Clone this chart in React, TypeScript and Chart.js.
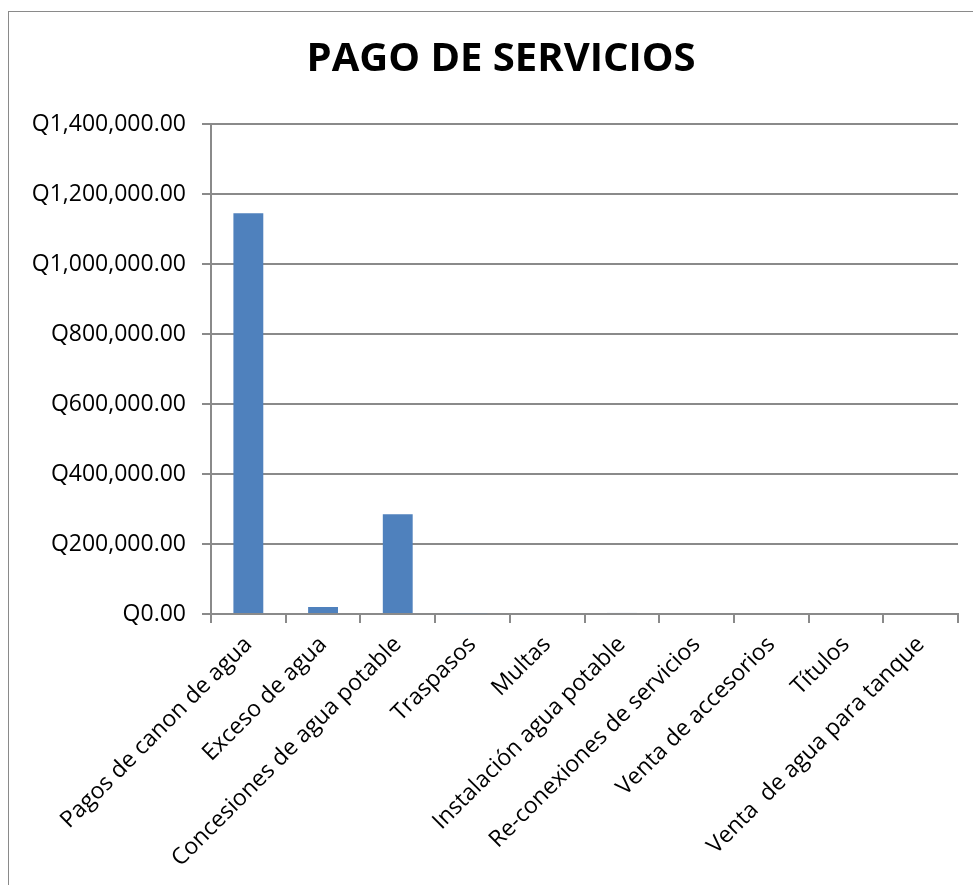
import React, { useEffect, useRef } from "react";
import { Chart, registerables } from "chart.js";

Chart.register(...registerables);

const categories = [
  "Pagos de canon de agua",
  "Exceso de agua",
  "Concesiones de agua potable",
  "Traspasos",
  "Multas",
  "Instalación agua potable",
  "Re-conexiones de servicios",
  "Venta de accesorios",
  "Títulos",
  "Venta  de agua para tanque",
];

const values = [1145000, 20000, 285000, 2500, 0, 3000, 0, 0, 0, 0];

const chartTitle = "PAGO DE SERVICIOS";
const yMin = 0;
const yMax = 1400000;
const yStep = 200000;

const fmtQ = (v: number) =>
  "Q" +
  Number(v).toLocaleString("en-US", {
    minimumFractionDigits: 2,
    maximumFractionDigits: 2,
  });

export default function App() {
  const ref = useRef<HTMLCanvasElement | null>(null);

  useEffect(() => {
    if (!ref.current) return;
    const axisColor = "#8a8a8a";
    const font = { family: "'Open Sans', sans-serif", size: 23 };
    const chart = new Chart(ref.current, {
      type: "bar",
      data: {
        labels: categories,
        datasets: [
          {
            data: values,
            backgroundColor: "#4F81BD",
            borderWidth: 0,
            categoryPercentage: 1,
            barPercentage: 0.4,
          },
        ],
      },
      options: {
        responsive: false,
        animation: false,
        devicePixelRatio: 1,
        layout: { padding: 0 },
        plugins: {
          legend: { display: false },
          tooltip: { enabled: false },
          title: {
            display: true,
            text: chartTitle,
            color: "#000",
            font: { family: "'Open Sans', sans-serif", size: 40, weight: "bold" },
            padding: { top: 24, bottom: 40 },
          },
        },
        scales: {
          x: {
            grid: {
              display: true,
              offset: true,
              drawOnChartArea: false,
              drawTicks: true,
              tickLength: 9,
              color: axisColor,
              lineWidth: 2,
            },
            border: { display: true, color: axisColor, width: 2 },
            ticks: {
              color: "#000",
              font,
              maxRotation: 45,
              minRotation: 45,
              padding: 8,
              autoSkip: false,
            },
            afterFit: (scale: any) => {
              scale.height = 271;
            },
          },
          y: {
            min: yMin,
            max: yMax,
            grid: {
              color: axisColor,
              lineWidth: 2,
              drawTicks: true,
              tickLength: 9,
            },
            border: { display: true, color: axisColor, width: 2 },
            ticks: {
              stepSize: yStep,
              color: "#000",
              font,
              padding: 16,
              callback: (v: any) => fmtQ(Number(v)),
            },
            afterFit: (scale: any) => {
              scale.width = 202;
            },
          },
          yR: {
            position: "right",
            display: true,
            min: yMin,
            max: yMax,
            grid: { display: false, drawTicks: false },
            border: { display: false },
            ticks: { display: false },
            afterFit: (scale: any) => {
              scale.width = 35;
            },
          },
        },
      },
    } as any);
    return () => chart.destroy();
  }, []);

  return (
    <div
      style={{
        position: "fixed",
        left: 0,
        top: 0,
        width: 973,
        height: 885,
        overflow: "hidden",
        background: "#fff",
      }}
    >
      <div
        style={{
          position: "absolute",
          left: 8,
          top: 11,
          width: 1000,
          height: 900,
          borderLeft: "1px solid #8a8a8a",
          borderTop: "1px solid #8a8a8a",
          background: "#fff",
        }}
      >
        <canvas ref={ref} width={984} height={873} style={{ display: "block" }} />
      </div>
    </div>
  );
}
